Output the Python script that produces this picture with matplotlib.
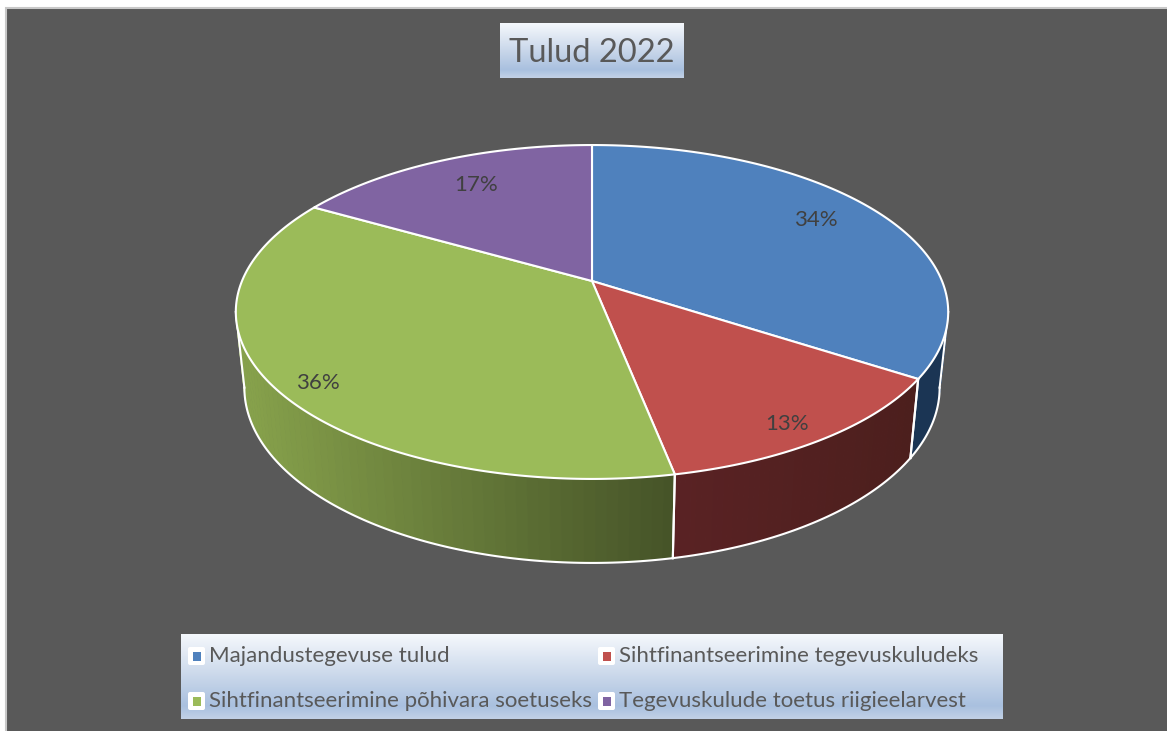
import numpy as np
import matplotlib
matplotlib.use("Agg")
import matplotlib.pyplot as plt
from matplotlib.colors import LinearSegmentedColormap
from matplotlib.patches import FancyBboxPatch, Rectangle

# chart data
title = "Tulud 2022"
categories = ["Majandustegevuse tulud", "Sihtfinantseerimine tegevuskuludeks",
              "Sihtfinantseerimine põhivara soetuseks", "Tegevuskulude toetus riigieelarvest"]
values = [34.2, 12.7, 36.4, 16.7]

# styles and layout, in pixels of the 1167x731 picture
top_colors = ["#4f81bd", "#c0504d", "#9bbb59", "#8064a2"]
wall_start = ["#1b3554", "#5a2224", "#88a34c", "#4d3c62"]
wall_end = ["#1b3554", "#4c1f1d", "#465428", "#4d3c62"]
label_pos = [(816, 220), (787, 424), (318, 383), (476, 185)]
legend_pos = [(188, 656), (598, 656), (188, 701), (598, 701)]

CX, CY = 592, 281
A, B, K = 350.0, 161.2, 0.1856
TEXT = "#595959"


def rim(deg):
    # clockwise degrees from the top of the pie, with perspective
    t = np.radians(deg)
    w = 1 + K * np.cos(t)
    return CX + A * np.sin(t) / w, CY - B * np.cos(t) / w


def lower_rim(deg):
    x, y = rim(deg)
    return CX + (x - CX) * 0.976, y + 79 + 0.05 * (y - 379)


def gradient_box(ax, x0, y0, x1, y1):
    cmap = LinearSegmentedColormap.from_list("box", [(0, "#f5f8fc"), (0.5, "#c9d7ea"),
                                                     (0.85, "#a9c0df"), (1, "#c2d1e6")])
    ax.imshow(np.linspace(0, 1, 128).reshape(-1, 1), cmap=cmap, aspect="auto",
              extent=(x0, x1, y1, y0), zorder=3)


fig = plt.figure(figsize=(11.67, 7.31), dpi=100, facecolor="white")
ax = fig.add_axes([0, 0, 1, 1])
ax.set_xlim(0, 1167)
ax.set_ylim(731, 0)
ax.axis("off")

plt.rcParams["font.family"] = ["Lato", "DejaVu Sans"]

ax.add_patch(Rectangle((6, 8), 1170, 730, facecolor="#595959", edgecolor="#c8c8c8", lw=1.5, zorder=0))

cum = np.concatenate([[0], np.cumsum(values)]) * 360 / sum(values)
left_tangent = 360 - np.degrees(np.arccos(-K))
right_tangent = np.degrees(np.arccos(-K))

# side walls, only the part of the rim facing the viewer
for i in range(len(values)):
    a0, a1 = max(cum[i], right_tangent), min(cum[i + 1], left_tangent)
    if a1 <= a0:
        continue
    steps = np.linspace(a0, a1, 60)
    # light to dark running left to right along the front of the pie
    cmap = LinearSegmentedColormap.from_list("wall", [wall_start[i], wall_end[i]])
    x_left, x_right = rim(a1)[0], rim(a0)[0]
    for j in range(len(steps) - 1):
        d = steps[j:j + 2]
        xs = np.r_[rim(d)[0], lower_rim(d)[0][::-1]]
        ys = np.r_[rim(d)[1], lower_rim(d)[1][::-1]]
        ax.fill(xs, ys, color=cmap((rim(d[0])[0] - x_left) / (x_right - x_left)), lw=0.6, zorder=1)
    d = np.linspace(a0, a1, 120)
    ax.plot(*lower_rim(d), color="white", lw=1.5, zorder=2)
    for edge in (a0, a1):
        ax.plot([rim(edge)[0], lower_rim(edge)[0]], [rim(edge)[1], lower_rim(edge)[1]],
                color="white", lw=1.5, zorder=2)

# top faces
for i in range(len(values)):
    d = np.linspace(cum[i], cum[i + 1], 200)
    x, y = rim(d)
    ax.fill(np.r_[CX, x], np.r_[CY, y], facecolor=top_colors[i], edgecolor="white", lw=1.5,
            joinstyle="round", zorder=2.5)

for pct, (x, y) in zip(values, label_pos):
    ax.text(x, y, f"{pct:.0f}%", fontsize=16, color="#404040", ha="center", va="center", zorder=4)

# title
gradient_box(ax, 500, 23, 684, 78)
ax.text(592, 53, title, fontsize=23.6, color=TEXT, ha="center", va="center", zorder=4)

# legend
gradient_box(ax, 181, 634, 1003, 719)
for name, color, (x, y) in zip(categories, top_colors, legend_pos):
    ax.add_patch(FancyBboxPatch((x + 2, y - 7), 13, 14, boxstyle="round,pad=2", facecolor="white",
                                edgecolor="none", zorder=4))
    ax.add_patch(Rectangle((x + 4.5, y - 4), 8, 9, facecolor=color, edgecolor="none", zorder=5))
    ax.text(x + 21, y, name, fontsize=16, color=TEXT, ha="left", va="center", zorder=5)

ax.set_xlim(0, 1167)
ax.set_ylim(731, 0)
fig.savefig("out.png", dpi=100)
